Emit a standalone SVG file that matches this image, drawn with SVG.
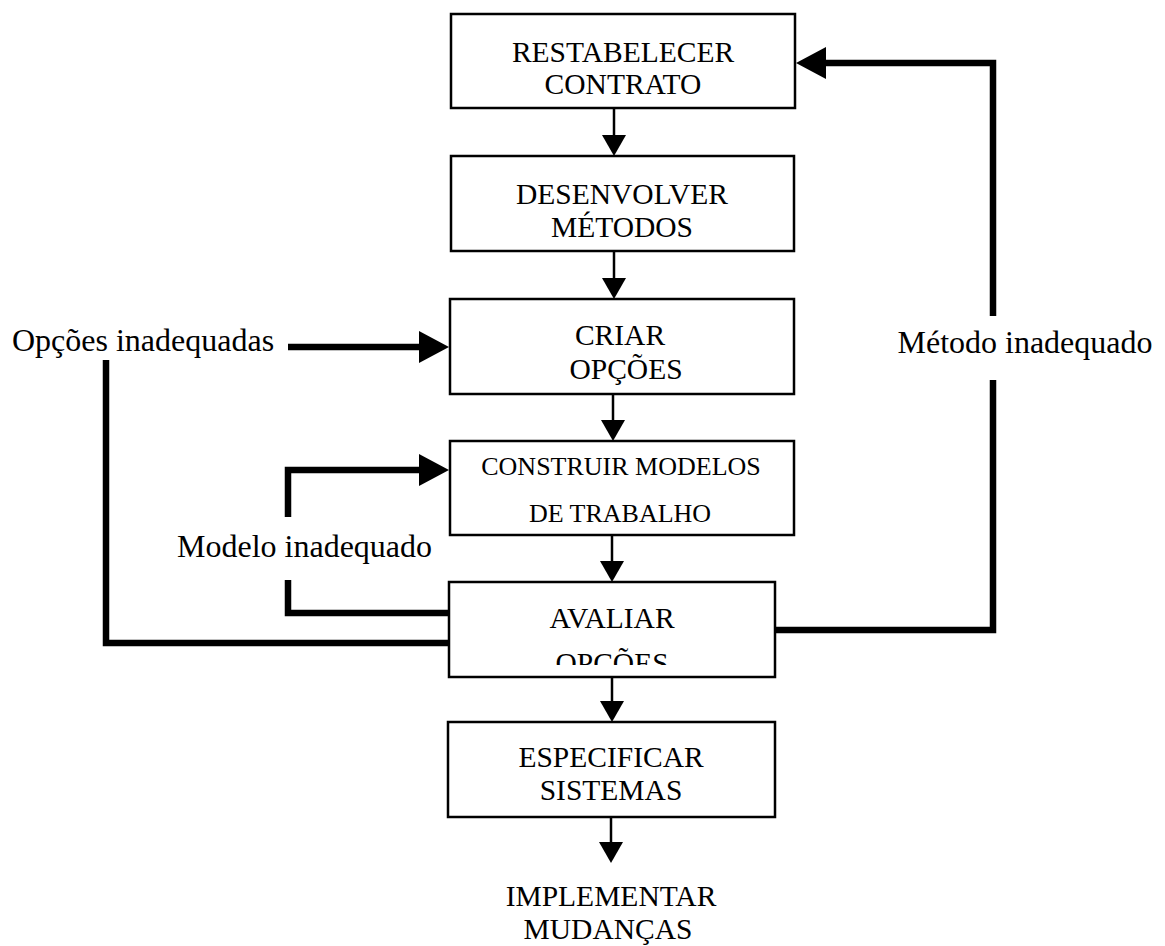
<svg xmlns="http://www.w3.org/2000/svg" width="1165" height="946" viewBox="0 0 1165 946">
<style>
  .box { fill: #fff; stroke: #000; stroke-width: 2.5; }
  .t { font-family: "Liberation Serif", "Times New Roman", serif; fill: #000; text-anchor: middle; }
  .bt { font-size: 29.5px; }
  .sm { font-size: 26px; }
  .lbl { font-family: "Liberation Serif", "Times New Roman", serif; fill: #000; font-size: 32px; }
  .thin { fill: none; stroke: #000; stroke-width: 2.5; }
  .thick { fill: none; stroke: #000; stroke-width: 6.5; stroke-linejoin: miter; }
</style>
<defs>
  <marker id="headThin" markerUnits="userSpaceOnUse" markerWidth="22" markerHeight="24" refX="0" refY="12" orient="auto" viewBox="0 0 22 24">
    <path d="M0,0 L21,12 L0,24 z" fill="#000"/>
  </marker>
  <marker id="headThick" markerUnits="userSpaceOnUse" markerWidth="31" markerHeight="32" refX="0" refY="16" orient="auto" viewBox="0 0 31 32">
    <path d="M0,0 L30,16 L0,32 z" fill="#000"/>
  </marker>
  <clipPath id="clip5">
    <rect x="449" y="582" width="326" height="83"/>
  </clipPath>
</defs>
<rect width="1165" height="946" fill="#fff"/>

<g id="connectors">
  <line class="thin" x1="614" y1="108" x2="614" y2="135" marker-end="url(#headThin)"/>
  <line class="thin" x1="614" y1="251" x2="614" y2="278" marker-end="url(#headThin)"/>
  <line class="thin" x1="613" y1="394" x2="613" y2="420" marker-end="url(#headThin)"/>
  <line class="thin" x1="612" y1="535" x2="612" y2="561" marker-end="url(#headThin)"/>
  <line class="thin" x1="612" y1="677" x2="612" y2="701" marker-end="url(#headThin)"/>
  <line class="thin" x1="611" y1="817" x2="611" y2="842" marker-end="url(#headThin)"/>
  <!-- Opções inadequadas -->
  <line class="thick" x1="288" y1="347" x2="419" y2="347" marker-end="url(#headThick)"/>
  <path class="thick" d="M449,643 H106 V360"/>
  <!-- Modelo inadequado -->
  <path class="thick" d="M288,517 V470 H419" marker-end="url(#headThick)"/>
  <path class="thick" d="M449,613 H288 V580"/>
  <!-- Método inadequado -->
  <path class="thick" d="M775,630 H993 V380"/>
  <path class="thick" d="M993,316 V63 H826" marker-end="url(#headThick)"/>
</g>

<g id="n1">
  <rect class="box" x="451" y="14" width="344" height="94"/>
  <text class="t bt" x="623" y="62">RESTABELECER</text>
  <text class="t bt" x="623" y="94">CONTRATO</text>
</g>
<g id="n2">
  <rect class="box" x="451" y="156" width="343" height="95"/>
  <text class="t bt" x="622" y="204">DESENVOLVER</text>
  <text class="t bt" x="622" y="237">MÉTODOS</text>
</g>
<g id="n3">
  <rect class="box" x="450" y="299" width="344" height="95"/>
  <text class="t bt" x="620" y="345">CRIAR</text>
  <text class="t bt" x="626" y="379">OPÇÕES</text>
</g>
<g id="n4">
  <rect class="box" x="450" y="441" width="344" height="94"/>
  <text class="t sm" x="621" y="475">CONSTRUIR MODELOS</text>
  <text class="t sm" x="620" y="522">DE TRABALHO</text>
</g>
<g id="n5">
  <rect class="box" x="449" y="582" width="326" height="95"/>
  <text class="t bt" x="612" y="628">AVALIAR</text>
  <text class="t bt" x="612" y="673" clip-path="url(#clip5)">OPÇÕES</text>
</g>
<g id="n6">
  <rect class="box" x="448" y="722" width="327" height="95"/>
  <text class="t bt" x="611" y="767">ESPECIFICAR</text>
  <text class="t bt" x="611" y="800">SISTEMAS</text>
</g>
<g id="n7">
  <text class="t bt" x="611" y="906">IMPLEMENTAR</text>
  <text class="t bt" x="608" y="939">MUDANÇAS</text>
</g>

<g id="labels">
  <text class="lbl" x="12" y="351">Opções inadequadas</text>
  <text class="lbl" x="177" y="557">Modelo inadequado</text>
  <text class="lbl" x="1025" y="353" text-anchor="middle" font-size="30.5">Método inadequado</text>
</g>
</svg>
